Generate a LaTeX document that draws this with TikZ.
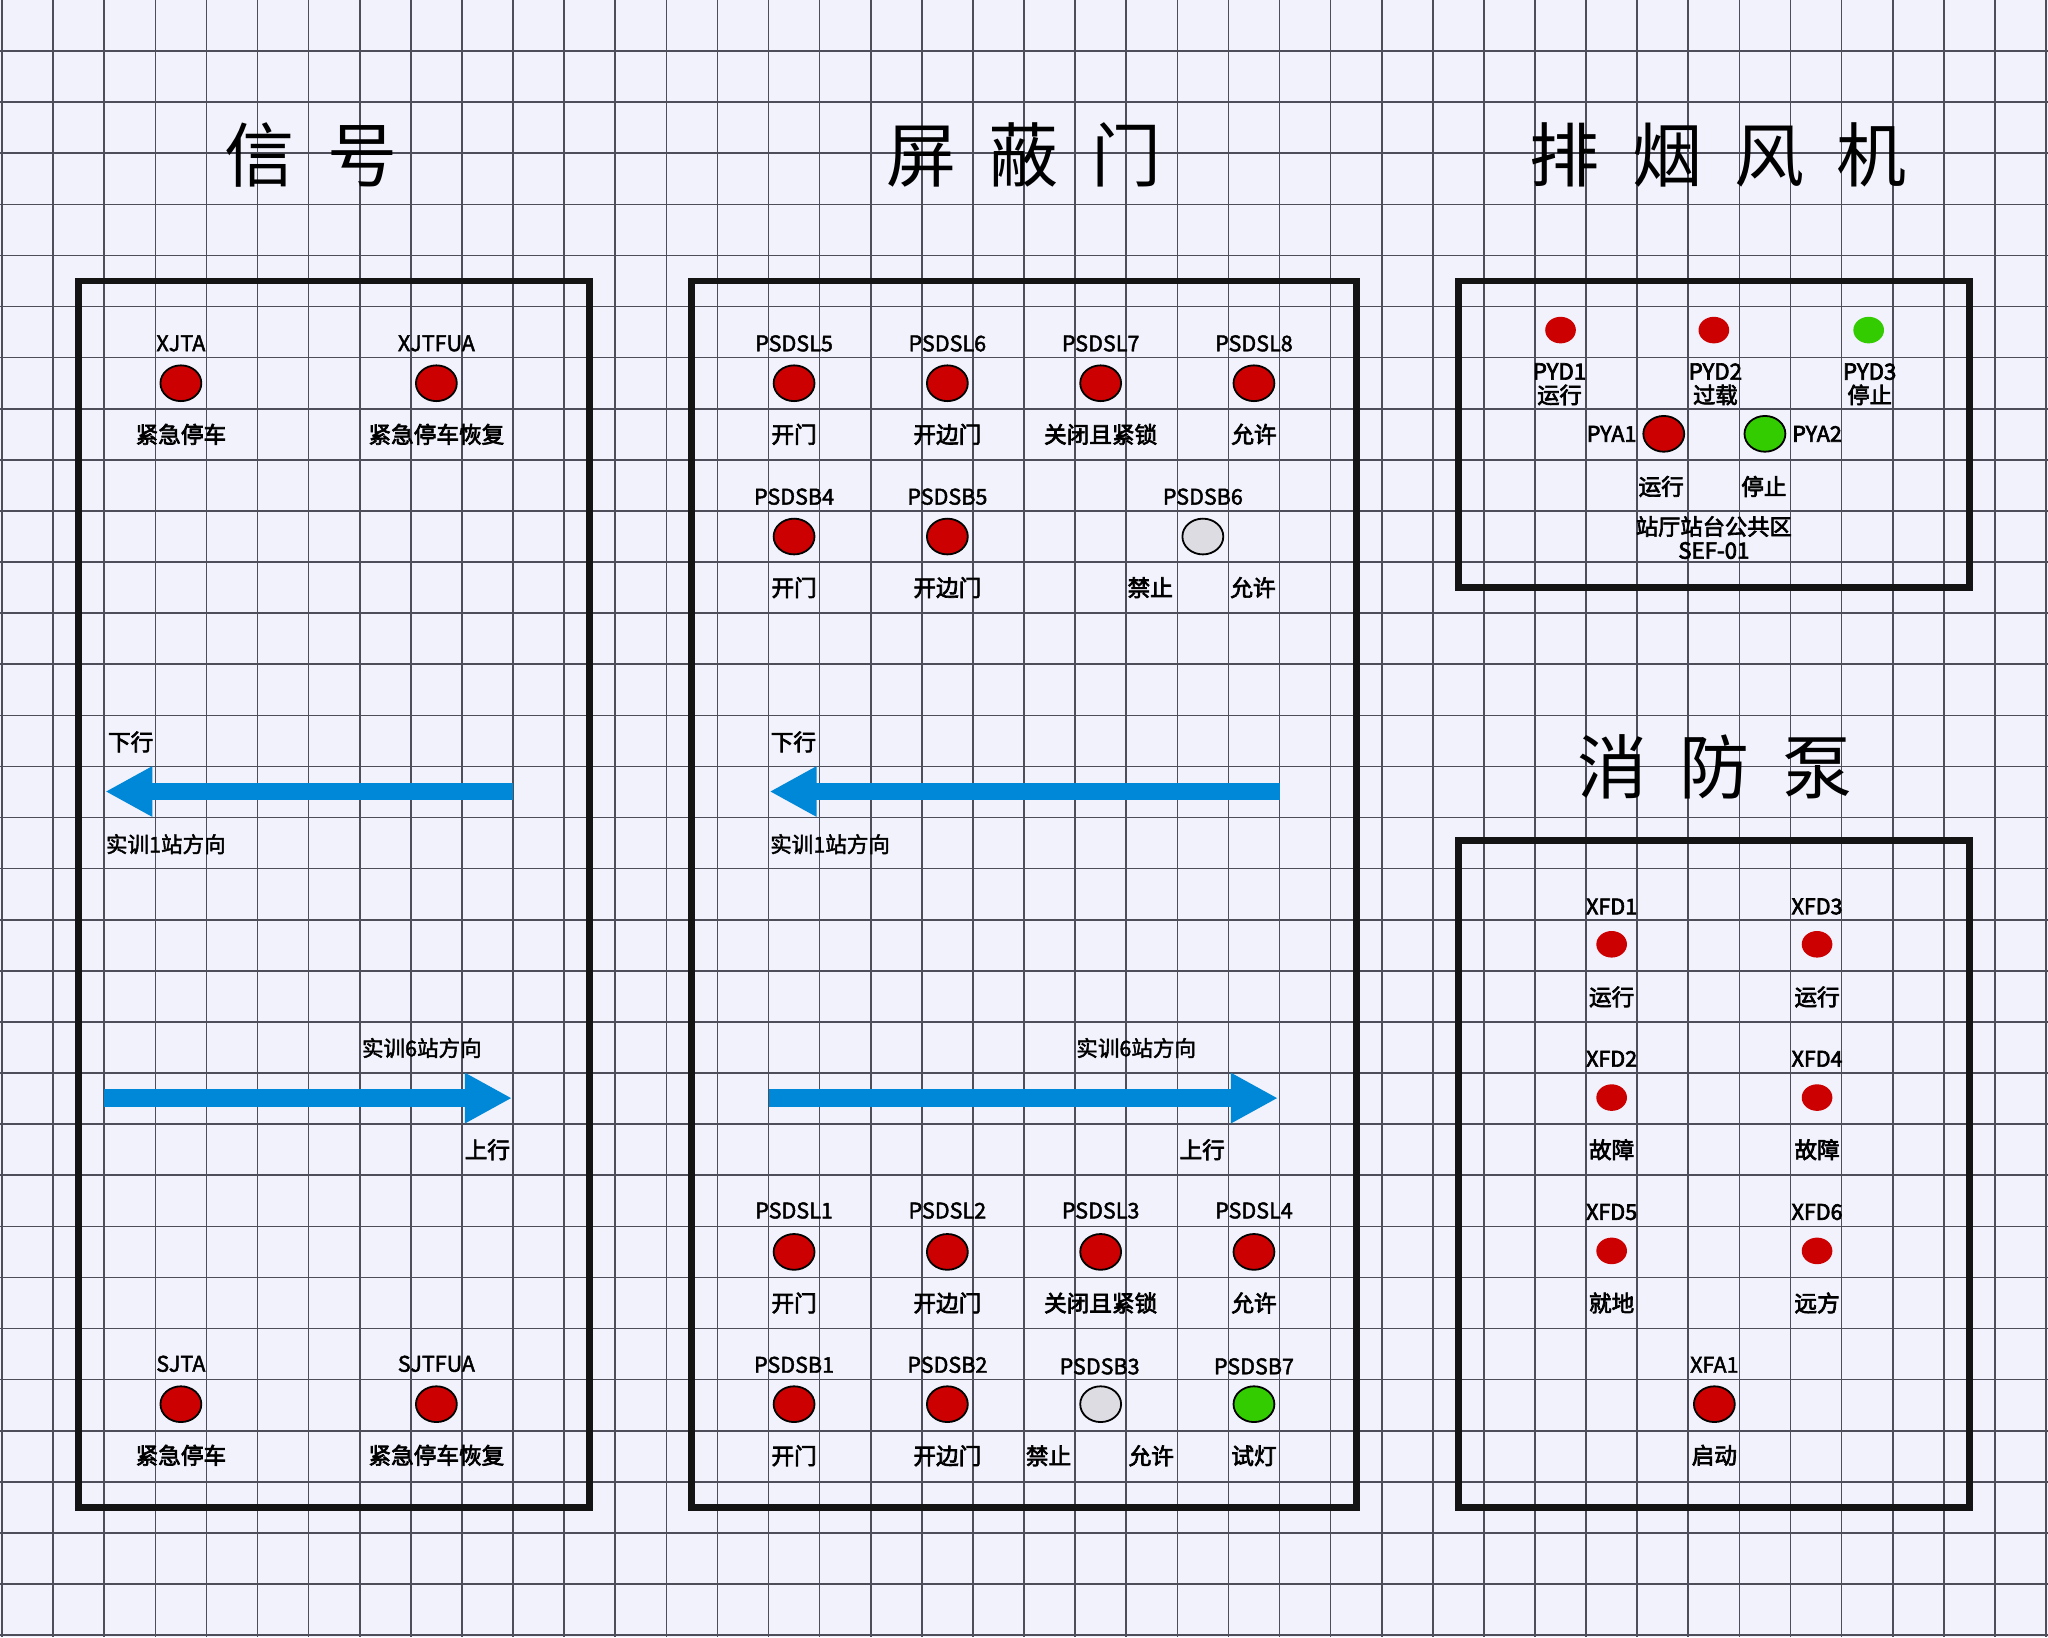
\documentclass[tikz,border=0pt]{standalone}
\usepackage{fontspec}
\setmainfont{Noto Sans CJK SC}
\newfontfamily\labfont[FakeBold=3]{Noto Sans CJK SC}
\newfontfamily\tagfont[FakeBold=2]{Noto Sans CJK SC}
\usetikzlibrary{arrows.meta,shapes.geometric}
\definecolor{paper}{RGB}{242,242,252}
\definecolor{gridgray}{RGB}{78,78,90}
\definecolor{lampred}{RGB}{204,0,0}
\definecolor{lampgreen}{RGB}{51,204,0}
\definecolor{lampgray}{RGB}{220,220,226}
\definecolor{wayblue}{RGB}{0,136,216}

\begin{document}
\begin{tikzpicture}[x=0.5cm,y=-0.5cm,
  gridline/.style={line width=0.45pt,gridgray},
  panel/.style={line width=1.9pt,draw=black!92},
  lamp/.style={ellipse,draw=black,line width=0.5pt,minimum width=0.4cm,minimum height=0.35cm,inner sep=0pt},
  dot/.style={ellipse,minimum width=0.3cm,minimum height=0.26cm,inner sep=0pt},
  tag/.style={inner sep=0pt,font=\tagfont\fontsize{6}{6}\selectfont},
  btag/.style={inner sep=0pt,font=\labfont\fontsize{6}{6}\selectfont},
  lab/.style={inner sep=0pt,font=\labfont\fontsize{6.3}{6.3}\selectfont},
  dir/.style={inner sep=0pt,anchor=west,font=\tagfont\fontsize{6}{6}\selectfont},
  twoline/.style={inner sep=0pt,align=center,font=\labfont\fontsize{6.2}{6.6}\selectfont},
  title/.style={inner sep=0pt,font=\fontsize{19.5}{19.5}\selectfont},
  way/.style={line width=0.17cm,wayblue,-{Triangle[length=0.46cm,width=0.46cm]}}]

% paper and grid
\useasboundingbox (-0.04,0) rectangle (40.04,32.04);
\fill[paper] (-0.04,0) rectangle (40.04,32.04);
\foreach \x in {0,...,40} \draw[gridline] (\x,0) -- (\x,32.04);
\foreach \y in {1,...,32} \draw[gridline] (-0.04,\y) -- (40.04,\y);

% titles
\node[title] (tsig) at (6.05,3.03) {信\hspace{9pt}号};
\node[title] (tpsd) at (20,3.03) {屏\hspace{9pt}蔽\hspace{9pt}门};
\node[title] (tfan) at (33.59,3.03) {排\hspace{9pt}烟\hspace{9pt}风\hspace{9pt}机};
\node[title] (tpump) at (33.52,15.0) {消\hspace{9pt}防\hspace{9pt}泵};

% panels
\draw[panel] (1.5,5.5) rectangle (11.5,29.5);
\draw[panel] (13.5,5.5) rectangle (26.5,29.5);
\draw[panel] (28.5,5.5) rectangle (38.5,11.5);
\draw[panel] (28.5,16.45) rectangle (38.5,29.5);

% signal panel
\node[tag] (xjta) at (3.5,6.72) {XJTA};
\node[lamp,fill=lampred] (xjtal) at (3.5,7.5) {};
\node[lab] (xjtat) at (3.5,8.5) {紧急停车};
\node[tag] (xjtfua) at (8.5,6.72) {XJTFUA};
\node[lamp,fill=lampred] (xjtfual) at (8.5,7.5) {};
\node[lab] (xjtfuat) at (8.5,8.5) {紧急停车恢复};

\node[lab,anchor=west] (sdown) at (2.06,14.52) {下行};
\coordinate (sdowna) at (10,15.49);
\coordinate (sdownb) at (2.02,15.49);
\draw[way] (sdowna) -- (sdownb);
\node[dir] (sto1) at (2.02,16.52) {实训1站方向};

\node[dir] (sto6) at (7.03,20.51) {实训6站方向};
\coordinate (supa) at (2,21.49);
\coordinate (supb) at (9.98,21.49);
\draw[way] (supa) -- (supb);
\node[lab,anchor=west] (sup) at (9.04,22.5) {上行};

\node[tag] (sjta) at (3.5,26.69) {SJTA};
\node[lamp,fill=lampred] (sjtal) at (3.5,27.48) {};
\node[lab] (sjtat) at (3.5,28.48) {紧急停车};
\node[tag] (sjtfua) at (8.5,26.69) {SJTFUA};
\node[lamp,fill=lampred] (sjtfual) at (8.5,27.48) {};
\node[lab] (sjtfuat) at (8.5,28.48) {紧急停车恢复};

% platform screen door panel
\node[tag] (sl5) at (15.5,6.72) {PSDSL5};
\node[lamp,fill=lampred] (sl5l) at (15.5,7.5) {};
\node[lab] (sl5t) at (15.5,8.5) {开门};
\node[tag] (sl6) at (18.5,6.72) {PSDSL6};
\node[lamp,fill=lampred] (sl6l) at (18.5,7.5) {};
\node[lab] (sl6t) at (18.5,8.5) {开边门};
\node[tag] (sl7) at (21.5,6.72) {PSDSL7};
\node[lamp,fill=lampred] (sl7l) at (21.5,7.5) {};
\node[lab] (sl7t) at (21.5,8.5) {关闭且紧锁};
\node[tag] (sl8) at (24.5,6.72) {PSDSL8};
\node[lamp,fill=lampred] (sl8l) at (24.5,7.5) {};
\node[lab] (sl8t) at (24.5,8.5) {允许};

\node[tag] (sb4) at (15.5,9.72) {PSDSB4};
\node[lamp,fill=lampred] (sb4l) at (15.5,10.5) {};
\node[lab] (sb4t) at (15.5,11.5) {开门};
\node[tag] (sb5) at (18.5,9.72) {PSDSB5};
\node[lamp,fill=lampred] (sb5l) at (18.5,10.5) {};
\node[lab] (sb5t) at (18.5,11.5) {开边门};
\node[tag] (sb6) at (23.5,9.72) {PSDSB6};
\node[lamp,fill=lampgray] (sb6l) at (23.5,10.5) {};
\node[lab] (sb6a) at (22.47,11.5) {禁止};
\node[lab] (sb6b) at (24.48,11.5) {允许};

\node[lab,anchor=west] (pdown) at (15.03,14.52) {下行};
\coordinate (pdowna) at (25,15.49);
\coordinate (pdownb) at (15.02,15.49);
\draw[way] (pdowna) -- (pdownb);
\node[dir] (pto1) at (15.02,16.52) {实训1站方向};

\node[dir] (pto6) at (21.01,20.51) {实训6站方向};
\coordinate (pupa) at (15,21.49);
\coordinate (pupb) at (24.97,21.49);
\draw[way] (pupa) -- (pupb);
\node[lab,anchor=west] (pup) at (23.03,22.5) {上行};

\node[tag] (sl1) at (15.5,23.69) {PSDSL1};
\node[lamp,fill=lampred] (sl1l) at (15.5,24.5) {};
\node[lab] (sl1t) at (15.5,25.5) {开门};
\node[tag] (sl2) at (18.5,23.69) {PSDSL2};
\node[lamp,fill=lampred] (sl2l) at (18.5,24.5) {};
\node[lab] (sl2t) at (18.5,25.5) {开边门};
\node[tag] (sl3) at (21.5,23.69) {PSDSL3};
\node[lamp,fill=lampred] (sl3l) at (21.5,24.5) {};
\node[lab] (sl3t) at (21.5,25.5) {关闭且紧锁};
\node[tag] (sl4) at (24.5,23.69) {PSDSL4};
\node[lamp,fill=lampred] (sl4l) at (24.5,24.5) {};
\node[lab] (sl4t) at (24.5,25.5) {允许};

\node[tag] (sb1) at (15.5,26.71) {PSDSB1};
\node[lamp,fill=lampred] (sb1l) at (15.5,27.48) {};
\node[lab] (sb1t) at (15.5,28.49) {开门};
\node[tag] (sb2) at (18.5,26.71) {PSDSB2};
\node[lamp,fill=lampred] (sb2l) at (18.5,27.48) {};
\node[lab] (sb2t) at (18.5,28.49) {开边门};
\node[tag] (sb3) at (21.48,26.74) {PSDSB3};
\node[lamp,fill=lampgray] (sb3l) at (21.5,27.48) {};
\node[lab] (sb3a) at (20.48,28.49) {禁止};
\node[lab] (sb3b) at (22.49,28.49) {允许};
\node[tag] (sb7) at (24.5,26.74) {PSDSB7};
\node[lamp,fill=lampgreen] (sb7l) at (24.5,27.48) {};
\node[lab] (sb7t) at (24.5,28.49) {试灯};

% smoke exhaust fan panel
\node[dot,fill=lampred] (pyd1) at (30.5,6.46) {};
\node[dot,fill=lampred] (pyd2) at (33.5,6.46) {};
\node[dot,fill=lampgreen] (pyd3) at (36.53,6.46) {};
\node[twoline] (pyd1t) at (30.48,7.52) {PYD1\\运行};
\node[twoline] (pyd2t) at (33.53,7.52) {PYD2\\过载};
\node[twoline] (pyd3t) at (36.55,7.52) {PYD3\\停止};
\node[lamp,fill=lampred] (pya1) at (32.52,8.49) {};
\node[lamp,fill=lampgreen] (pya2) at (34.5,8.49) {};
\node[btag] (pya1n) at (31.5,8.49) {PYA1};
\node[btag] (pya2n) at (35.52,8.49) {PYA2};
\node[lab] (pya1t) at (32.47,9.52) {运行};
\node[lab] (pya2t) at (34.48,9.52) {停止};
\node[twoline] (sef) at (33.5,10.52) {站厅站台公共区\\SEF-01};

% fire pump panel
\node[btag] (xfd1) at (31.5,17.74) {XFD1};
\node[dot,fill=lampred] (xfd1l) at (31.5,18.48) {};
\node[lab] (xfd1t) at (31.5,19.51) {运行};
\node[btag] (xfd3) at (35.52,17.74) {XFD3};
\node[dot,fill=lampred] (xfd3l) at (35.52,18.48) {};
\node[lab] (xfd3t) at (35.52,19.51) {运行};
\node[btag] (xfd2) at (31.5,20.72) {XFD2};
\node[dot,fill=lampred] (xfd2l) at (31.5,21.48) {};
\node[lab] (xfd2t) at (31.5,22.5) {故障};
\node[btag] (xfd4) at (35.52,20.72) {XFD4};
\node[dot,fill=lampred] (xfd4l) at (35.52,21.48) {};
\node[lab] (xfd4t) at (35.52,22.5) {故障};
\node[btag] (xfd5) at (31.5,23.72) {XFD5};
\node[dot,fill=lampred] (xfd5l) at (31.5,24.48) {};
\node[lab] (xfd5t) at (31.5,25.5) {就地};
\node[btag] (xfd6) at (35.52,23.72) {XFD6};
\node[dot,fill=lampred] (xfd6l) at (35.52,24.48) {};
\node[lab] (xfd6t) at (35.52,25.5) {远方};
\node[tag] (xfa1) at (33.51,26.71) {XFA1};
\node[lamp,fill=lampred] (xfa1l) at (33.51,27.48) {};
\node[lab] (xfa1t) at (33.51,28.48) {启动};
\end{tikzpicture}
\end{document}
